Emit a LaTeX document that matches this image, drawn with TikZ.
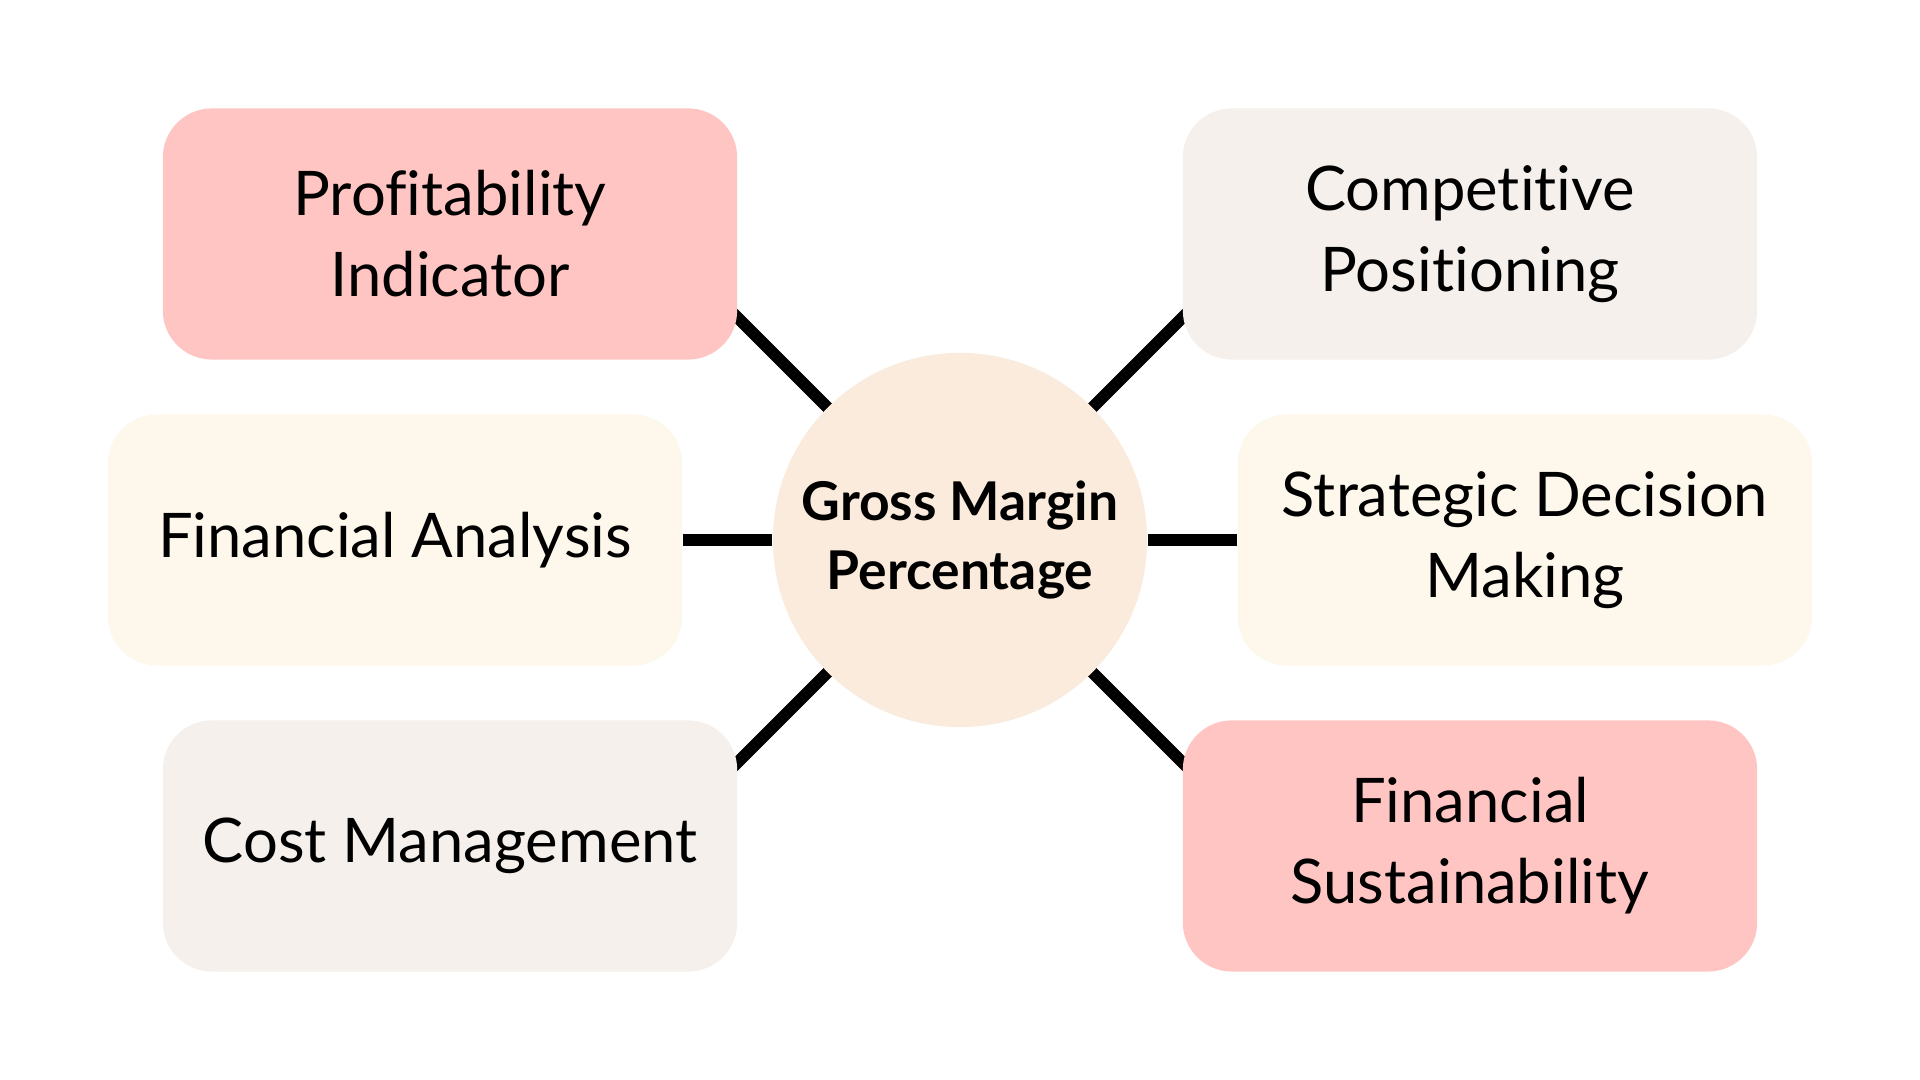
\documentclass[tikz,border=0pt]{standalone}
\usepackage{fontspec}
\setmainfont{Lato}[Ligatures={NoCommon}]
\usetikzlibrary{backgrounds,calc}
\definecolor{blush}{HTML}{FFC5C2}
\definecolor{linen}{HTML}{F5F0EB}
\definecolor{cream}{HTML}{FEF8EC}
\definecolor{almond}{HTML}{FAEBDC}
\tikzset{
    topic-box/.style = {rectangle, rounded corners=0.49cm, minimum width=5.74cm, minimum height=2.51cm, inner sep=0pt, align=center, font=\fontsize{17.5pt}{23pt}\selectfont},
    hub-circle/.style = {circle, fill=almond, minimum size=3.74cm, inner sep=0pt, align=center, font=\fontsize{15.2pt}{19.8pt}\selectfont\bfseries},
    spoke-line/.style = {draw=black, line width=3.4pt},
}

\begin{document}
\begin{tikzpicture}[x=0.01cm, y=0.01cm]
\useasboundingbox (0,0) rectangle (1920,1080);
\node [hub-circle] (hub) at (960,540) {Gross Margin\\Percentage};
\node [topic-box, fill=blush] (profit) at (450,846) {Profitability\\Indicator};
\node [topic-box, fill=linen] (compet) at (1470,846) {Competitive\\Positioning};
\node [topic-box, fill=cream] (analysis) at (395,540) {Financial Analysis};
\node [topic-box, fill=cream] (strategy) at (1525,540) {Strategic Decision\\Making};
\node [topic-box, fill=linen] (cost) at (450,234) {Cost Management};
\node [topic-box, fill=blush] (sustain) at (1470,234) {Financial\\Sustainability};
\coordinate (profit-end) at ($(hub.center)+(135:345)$);
\coordinate (compet-end) at ($(hub.center)+(45:345)$);
\coordinate (cost-end) at ($(hub.center)+(225:345)$);
\coordinate (sustain-end) at ($(hub.center)+(315:345)$);
\begin{pgfonlayer}{background}
\fill [white] (0,0) rectangle (1920,1080);
\draw [spoke-line] (hub.center) -- (profit-end);
\draw [spoke-line] (hub.center) -- (compet-end);
\draw [spoke-line] (hub.center) -- (cost-end);
\draw [spoke-line] (hub.center) -- (sustain-end);
\draw [spoke-line] (analysis.east) -- (hub.west);
\draw [spoke-line] (strategy.west) -- (hub.east);
\end{pgfonlayer}
\end{tikzpicture}
\end{document}
